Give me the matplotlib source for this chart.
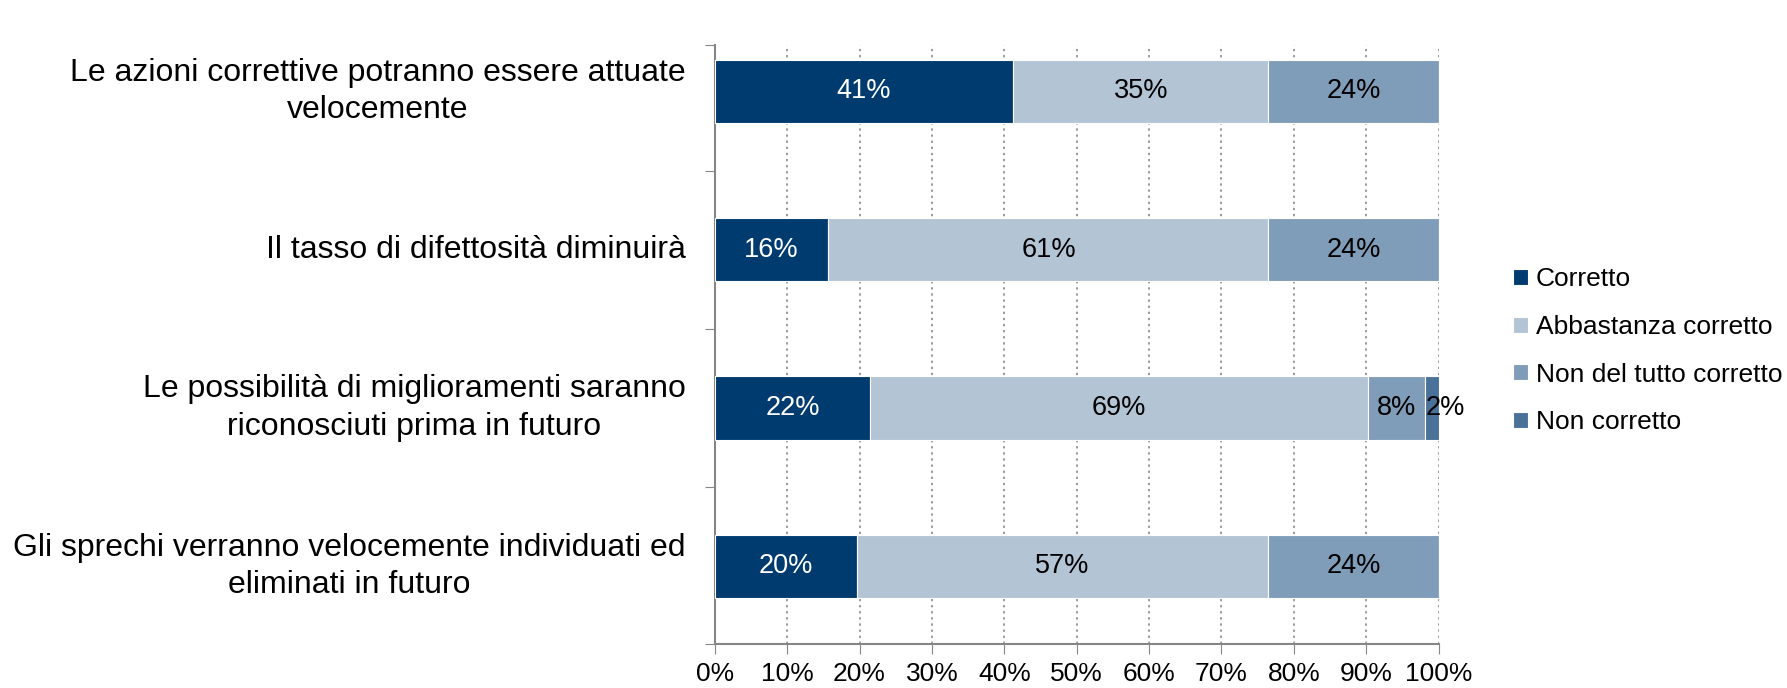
import matplotlib
matplotlib.use("Agg")
import matplotlib.pyplot as plt
import numpy as np

plt.rcParams['font.family'] = ['Liberation Sans', 'DejaVu Sans']

categories = [
    "Le azioni correttive potranno essere attuate\nvelocemente",
    "Il tasso di difettosità diminuirà",
    "Le possibilità di miglioramenti saranno\nriconosciuti prima in futuro",
    "Gli sprechi verranno velocemente individuati ed\neliminati in futuro",
]
series_names = ["Corretto", "Abbastanza corretto", "Non del tutto corretto", "Non corretto"]
corretto = [41.2, 15.7, 21.5, 19.6]
abbastanza = [35.3, 60.8, 68.7, 56.9]
non_del_tutto = [23.5, 23.5, 7.9, 23.5]
non_corretto = [0.0, 0.0, 1.9, 0.0]
xtick_values = [0, 10, 20, 30, 40, 50, 60, 70, 80, 90, 100]
xtick_labels = ["0%", "10%", "20%", "30%", "40%", "50%", "60%", "70%", "80%", "90%", "100%"]

colors = ["#003B70", "#B3C4D5", "#7F9DB9", "#4A7299"]
text_colors = ["white", "black", "black", "black"]

fig = plt.figure(figsize=(17.87, 6.88), dpi=100)
ax = fig.add_axes([0.400, 0.064, 0.405, 0.870])

y = np.arange(len(categories))
left = np.zeros(len(categories))
all_series = [corretto, abbastanza, non_del_tutto, non_corretto]
handles = []
for vals, name, col, tcol in zip(all_series, series_names, colors, text_colors):
    vals = np.array(vals)
    b = ax.barh(y, vals, left=left, height=0.4, color=col, edgecolor="white",
                linewidth=0.8, label=name, zorder=3)
    handles.append(b)
    for yi, (l, v) in enumerate(zip(left, vals)):
        if v > 0:
            dx = 10 if v < 4 else 0
            ax.annotate(f"{round(v):d}%", xy=(l + v / 2, yi), xytext=(dx, 0),
                        textcoords="offset points", ha="center", va="center",
                        fontsize=19.5, color=tcol, zorder=5)
    left = left + vals

ax.set_xlim(0, 100)
ax.set_ylim(3.49, -0.29)
ax.set_xticks(xtick_values)
ax.set_xticklabels(xtick_labels, fontsize=19)
ax.set_yticks([-0.29, 0.5, 1.5, 2.5, 3.49])
ax.set_yticklabels([])
ax.tick_params(axis="y", length=7, color="#868686", direction="out")
ax.tick_params(axis="x", length=7, color="#868686", direction="out", pad=6)

for yi, cat in enumerate(categories):
    ax.text(-0.04, yi, cat, transform=ax.get_yaxis_transform(), ha="right",
            va="center", multialignment="center", fontsize=23, linespacing=1.32)

ax.grid(axis="x", linestyle=(0, (1.5, 2.5)), color="#7f7f7f", linewidth=1.1, zorder=0)
for s in ["top", "right"]:
    ax.spines[s].set_visible(False)
for s in ["left", "bottom"]:
    ax.spines[s].set_color("#868686")
    ax.spines[s].set_linewidth(1.5)

leg = fig.legend(handles=handles, labels=series_names, loc="upper left",
                 bbox_to_anchor=(0.841, 0.627), frameon=False, fontsize=19,
                 handlelength=0.55, handleheight=0.55, handletextpad=0.3,
                 labelspacing=0.9, borderaxespad=0)

fig.savefig("out.png", dpi=100)
